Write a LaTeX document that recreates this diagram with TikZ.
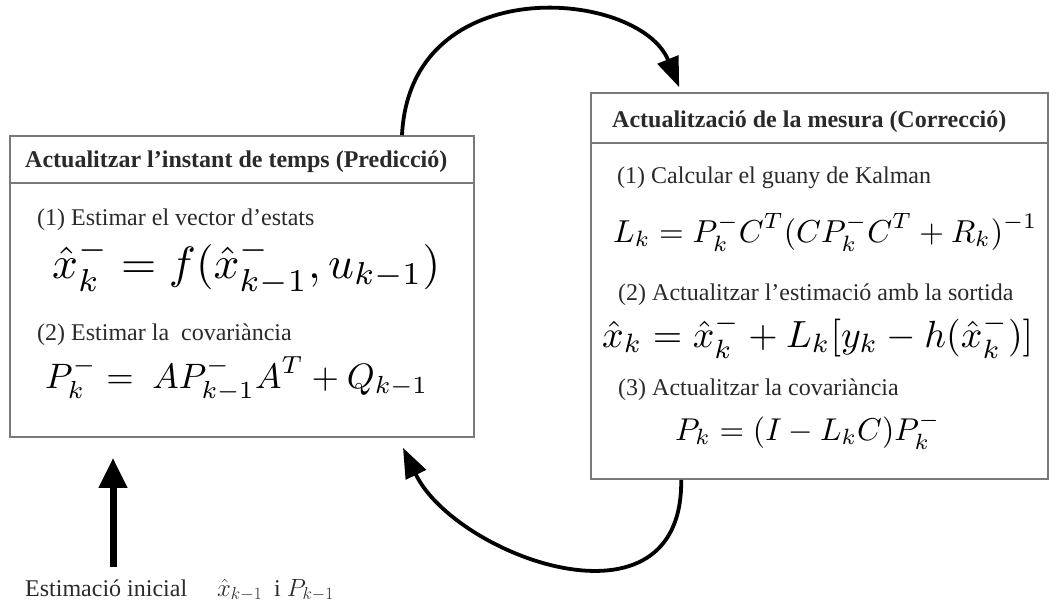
\documentclass[tikz,border=0pt]{standalone}
\usepackage{fontspec}
\setmainfont{Liberation Serif}
\usepackage{graphicx}
\usetikzlibrary{arrows.meta,calc}
\definecolor{txt}{HTML}{2A2A2A}
\definecolor{frame}{HTML}{7A7A7A}
\newcommand{\eqw}[2]{\resizebox{#1}{!}{$\displaystyle #2$}}
\begin{document}
\begin{tikzpicture}[x=1pt,y=-1pt,
  box/.style={draw=frame,line width=1.6pt,rectangle,inner sep=0pt,fill=white},
  sepline/.style={draw=frame,line width=1.6pt},
  hdr/.style={inner sep=0pt,anchor=base west,text=txt,font=\fontsize{24}{28}\selectfont\bfseries},
  sub/.style={inner sep=0pt,anchor=base west,text=txt,font=\fontsize{24}{28}\selectfont},
  eqn/.style={inner sep=0pt,anchor=base west,text=black},
  flow/.style={draw=black,line width=3.8pt,-{Triangle[length=30pt,width=22pt]}},
  feed/.style={draw=black,line width=7pt,-{Triangle[length=30pt,width=27pt]}}]
\useasboundingbox (0,0) rectangle (1049,603);
% boxes
\node[box,minimum width=464pt,minimum height=301pt] (P) at (242,286.5) {};
\node[box,minimum width=457pt,minimum height=386pt] (C) at (819.5,286) {};
\draw[sepline] (P.west |- 0,183) -- (P.east |- 0,183);
\draw[sepline] (C.west |- 0,143) -- (C.east |- 0,143);
% left box texts
\node[hdr] (ph) at (25,167) {Actualitzar l'instant de temps (Predicció)};
\node[sub] (p1) at (37,225) {(1) Estimar el vector d'estats};
\node[eqn] (pe1) at (52,278) {\eqw{388pt}{{\hat{x}}_k^- = f({\hat{x}}_{k-1}^-, u_{k-1})}};
\node[sub] (p2) at (37,340) {(2) Estimar la\ \ covariància};
\node[eqn] (pe2) at (45,388) {\eqw{383pt}{P_k^- =\ A P_{k-1}^- A^T + Q_{k-1}}};
% right box texts
\node[hdr] (ch) at (612,127) {Actualització de la mesura (Correcció)};
\node[sub] (c1) at (617,183) {(1) Calcular el guany de Kalman};
\node[eqn] (ce1) at (613,242) {\eqw{424pt}{L_k = P_k^- C^T (C P_k^- C^T + R_k)^{-1}}};
\node[sub] (c2) at (618,300) {(2) Actualitzar l'estimació amb la sortida};
\node[eqn] (ce2) at (602,347) {\eqw{431pt}{{\hat{x}}_k = {\hat{x}}_k^- + L_k [y_k - h({\hat{x}}_k^-)]}};
\node[sub] (c3) at (618,395) {(3) Actualitzar la covariància};
\node[eqn] (ce3) at (675,440) {\eqw{265pt}{P_k = (I - L_k C) P_k^-}};
% initial estimate label
\node[sub] (init) at (25,596) {Estimació inicial\quad\ $\hat{x}_{k-1}$\ \ i $P_{k-1}$};
\coordinate (istart) at (113,567);
% connectors
\coordinate (t1) at ([xshift=160pt]P.north);
\coordinate (t2) at ([xshift=89pt,yshift=5pt]C.north west);
\draw[flow] (t1) .. controls +(8,-166) and +(-40,-98) .. (t2);
\coordinate (b1) at ([xshift=91pt]C.south west);
\coordinate (b2) at ([xshift=161pt,yshift=-10pt]P.south);
\draw[flow] (b1) .. controls +(2,161) and +(52,108) .. (b2);
\coordinate (v2) at ([xshift=-129pt,yshift=-20pt]P.south);
\draw[feed] (istart) -- (v2);
\end{tikzpicture}
\end{document}
